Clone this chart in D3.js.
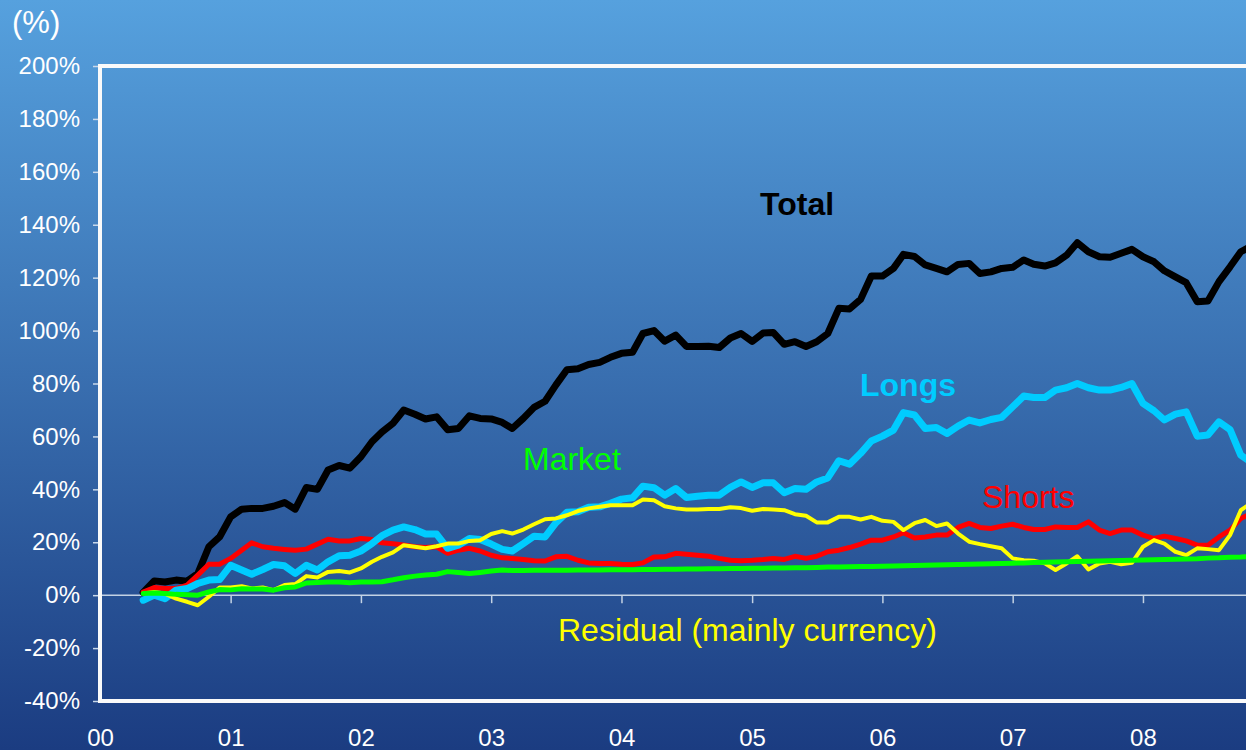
<!DOCTYPE html>
<html>
<head>
<meta charset="utf-8">
<script src="https://cdn.jsdelivr.net/npm/d3@7"></script>
<style>
  html, body { margin: 0; padding: 0; background: #1c3d82; }
  svg { display: block; font-family: "Liberation Sans", Arial, sans-serif; }
</style>
</head>
<body>
<svg id="chart" width="1246" height="750"></svg>
<script>
// monthly observations, May 2000 .. Nov 2008
const months = d3.timeMonth.range(new Date(2000, 4, 1), new Date(2008, 11, 1));

const total = [
  1.0, 5.4, 5.0, 5.7, 5.3, 8.2, 18.3, 22.0,
  29.6, 32.5, 32.8, 32.8, 33.6, 35.0, 32.5, 40.7, 40.0, 47.3, 49.0, 48.0,
  52.3, 58.0, 61.7, 65.0, 70.0, 68.4, 66.6, 67.4, 62.5, 63.0, 67.8, 66.8,
  66.6, 65.3, 63.0, 66.8, 71.0, 73.3, 79.4, 85.2, 85.6, 87.2, 88.0, 89.9,
  91.4, 91.8, 98.9, 100.0, 96.0, 98.3, 94.0, 94.0, 94.1, 93.6, 97.2, 98.9,
  95.9, 99.1, 99.3, 94.8, 95.8, 94.0, 95.8, 98.9, 108.4, 108.2, 111.8, 120.6,
  120.6, 123.5, 128.8, 128.0, 124.8, 123.5, 122.2, 125.0, 125.4, 121.6, 122.2, 123.5,
  123.9, 126.7, 125.1, 124.4, 125.6, 128.5, 133.2, 129.8, 127.9, 127.7, 129.2, 130.7,
  127.9, 126.0, 122.6, 120.3, 118.1, 110.9, 111.2, 118.5, 124.1, 129.8, 132.0
];

const longs = [
  -1.9, 0.0, -1.3, 1.9, 2.5, 4.4, 5.7, 5.9,
  11.3, 9.5, 7.9, 9.7, 11.6, 11.1, 8.2, 11.3, 9.5, 12.6, 14.9, 15.1,
  16.7, 19.5, 22.5, 24.6, 25.8, 24.8, 23.1, 23.1, 17.7, 18.9, 21.4, 21.0,
  19.3, 17.3, 16.7, 19.5, 22.3, 22.0, 27.3, 31.3, 31.5, 33.2, 33.4, 34.7,
  36.3, 36.8, 41.2, 40.6, 37.8, 40.3, 36.9, 37.4, 37.8, 37.8, 40.7, 42.8,
  40.7, 42.5, 42.5, 38.7, 40.3, 40.0, 42.8, 44.3, 50.8, 49.5, 53.6, 58.3,
  60.1, 62.4, 69.0, 68.1, 63.0, 63.4, 61.1, 63.9, 66.2, 65.1, 66.4, 67.2,
  71.2, 75.3, 74.7, 74.7, 77.5, 78.4, 80.0, 78.4, 77.5, 77.5, 78.5, 80.0,
  72.5, 69.7, 66.2, 68.4, 69.3, 60.1, 60.5, 65.5, 62.6, 52.9, 50.0
];

const shorts = [
  1.2, 2.9, 2.5, 2.5, 3.8, 7.6, 11.7, 11.7,
  13.9, 17.0, 19.8, 18.3, 17.7, 17.3, 17.0, 17.4, 19.3, 21.1, 20.5, 20.5,
  21.4, 21.0, 19.8, 19.4, 19.0, 18.3, 18.0, 18.3, 15.8, 17.0, 17.7, 16.7,
  15.1, 14.1, 13.9, 13.5, 13.0, 12.9, 14.5, 14.7, 13.2, 12.2, 12.0, 12.0,
  11.7, 11.6, 12.2, 14.4, 14.5, 15.8, 15.5, 15.1, 14.7, 13.9, 13.2, 13.0,
  13.2, 13.5, 13.9, 13.5, 14.7, 13.9, 14.7, 16.4, 17.0, 18.0, 19.3, 20.8,
  20.8, 22.0, 23.6, 21.6, 22.0, 22.7, 22.7, 25.6, 27.1, 25.6, 25.2, 26.1,
  26.8, 25.6, 24.8, 24.8, 25.8, 25.6, 25.6, 27.7, 24.6, 23.3, 24.6, 24.6,
  22.7, 21.4, 22.3, 21.4, 20.5, 18.9, 18.9, 22.0, 24.6, 29.0, 31.0
];

const market = [
  0.6, 0.8, 0.6, 0.3, 0.2, 0.0, 1.2, 2.1,
  2.0, 2.4, 2.3, 2.3, 1.9, 2.8, 3.1, 4.6, 4.8, 5.0, 5.0, 4.7,
  5.0, 5.0, 5.1, 5.8, 6.6, 7.2, 7.6, 7.9, 8.9, 8.6, 8.2, 8.6,
  9.1, 9.5, 9.3, 9.3, 9.4, 9.4, 9.4, 9.4, 9.5, 9.5, 9.5, 9.6,
  9.6, 9.6, 9.7, 9.7, 9.8, 9.8, 9.9, 9.9, 10.0, 10.0, 10.1, 10.1,
  10.2, 10.2, 10.3, 10.3, 10.4, 10.4, 10.5, 10.6, 10.6, 10.7, 10.8, 10.8,
  10.9, 11.0, 11.1, 11.2, 11.3, 11.4, 11.5, 11.6, 11.7, 11.8, 11.9, 12.0,
  12.1, 12.2, 12.3, 12.4, 12.5, 12.6, 12.7, 12.8, 12.9, 13.0, 13.1, 13.2,
  13.3, 13.4, 13.5, 13.6, 13.7, 13.8, 14.0, 14.1, 14.3, 14.4, 14.6
];

const residual = [
  0.6, 1.2, 0.6, -1.3, -2.5, -3.8, -0.6, 2.9,
  2.9, 3.4, 2.5, 2.9, 1.9, 3.8, 4.2, 7.2, 6.7, 8.8, 9.1, 8.6,
  10.1, 12.6, 14.5, 16.2, 18.9, 18.3, 17.7, 18.5, 19.5, 19.5, 20.5, 20.8,
  23.1, 24.2, 23.3, 24.8, 26.8, 28.7, 29.0, 30.2, 31.8, 32.8, 33.4, 34.0,
  34.0, 34.0, 36.2, 35.9, 33.6, 32.8, 32.4, 32.4, 32.6, 32.6, 33.2, 32.9,
  31.9, 32.6, 32.4, 32.1, 30.6, 30.0, 27.5, 27.5, 29.6, 29.6, 28.6, 29.6,
  28.1, 27.7, 24.6, 27.2, 28.4, 26.1, 27.1, 23.3, 20.2, 19.3, 18.5, 17.7,
  13.9, 13.2, 13.0, 12.0, 9.5, 12.0, 14.7, 9.7, 12.0, 12.6, 11.7, 12.2,
  18.3, 20.8, 19.5, 16.4, 15.1, 17.7, 17.4, 17.0, 22.7, 32.1, 35.0
];

const yTicks = [-40, -20, 0, 20, 40, 60, 80, 100, 120, 140, 160, 180, 200];
const yearLabels = ["00", "01", "02", "03", "04", "05", "06", "07", "08"];

const W = 1246, H = 750;
const margin = { left: 100, top: 66, bottom: 701, right: 1300 };

const svg = d3.select("#chart");

const defs = svg.append("defs");
const grad = defs.append("linearGradient")
  .attr("id", "bg").attr("x1", 0).attr("y1", 0).attr("x2", 0).attr("y2", 1);
grad.append("stop").attr("offset", "0%").attr("stop-color", "#56a1de");
grad.append("stop").attr("offset", "50%").attr("stop-color", "#396fb0");
grad.append("stop").attr("offset", "100%").attr("stop-color", "#1b3c81");

defs.append("clipPath").attr("id", "plotclip")
  .append("rect")
  .attr("x", margin.left).attr("y", margin.top)
  .attr("width", margin.right - margin.left).attr("height", margin.bottom - margin.top);

svg.append("rect").attr("width", W).attr("height", H).attr("fill", "url(#bg)");

const x = d3.scaleTime()
  .domain([new Date(2000, 0, 1), new Date(2009, 0, 1)])
  .range([margin.left, margin.left + 9 * 130.4]);

const y = d3.scaleLinear()
  .domain([-40, 200])
  .range([margin.bottom, margin.top]);

// y axis ticks + labels
const yAxis = svg.append("g")
  .attr("transform", `translate(${margin.left},0)`)
  .call(d3.axisLeft(y).tickValues(yTicks).tickSize(7).tickPadding(13).tickFormat(d => d + "%"));
yAxis.select(".domain").remove();
yAxis.selectAll("line").attr("stroke", "#c9d8ea").attr("stroke-width", 1.5);
yAxis.selectAll("text").attr("fill", "#fff").attr("font-size", 24)
  .attr("font-family", "'Liberation Sans', Arial, sans-serif");

// zero line with year ticks
svg.append("line")
  .attr("x1", margin.left).attr("x2", margin.right)
  .attr("y1", y(0)).attr("y2", y(0))
  .attr("stroke", "#c3d2e4").attr("stroke-width", 1.5);

const years = d3.timeYear.range(new Date(2000, 0, 1), new Date(2009, 0, 1));

const zeroAxis = svg.append("g")
  .attr("transform", `translate(0,${y(0)})`)
  .call(d3.axisBottom(x).tickValues(years).tickSize(8).tickFormat(""));
zeroAxis.select(".domain").remove();
zeroAxis.selectAll("line").attr("stroke", "#c3d2e4").attr("stroke-width", 1.5);

// year labels below plot
const xAxis = svg.append("g")
  .attr("transform", `translate(0,${margin.bottom})`)
  .call(d3.axisBottom(x).tickValues(years).tickSize(0).tickPadding(28)
    .tickFormat((d, i) => yearLabels[i]));
xAxis.select(".domain").remove();
xAxis.selectAll("text").attr("fill", "#fff").attr("font-size", 24)
  .attr("font-family", "'Liberation Sans', Arial, sans-serif");

svg.append("text")
  .attr("x", 12).attr("y", 33)
  .attr("fill", "#fff").attr("font-size", 31)
  .text("(%)");

// lines
const series = [
  { name: "Total", values: total, color: "#000000", width: 7 },
  { name: "Shorts", values: shorts, color: "#ff0000", width: 5 },
  { name: "Longs", values: longs, color: "#00ccff", width: 7 },
  { name: "Residual", values: residual, color: "#ffff00", width: 4 },
  { name: "Market", values: market, color: "#00ff00", width: 5 }
];

const line = d3.line()
  .x((d, i) => x(months[i]))
  .y(d => y(d));

svg.append("g")
  .attr("clip-path", "url(#plotclip)")
  .selectAll("path")
  .data(series)
  .join("path")
  .attr("d", s => line(s.values))
  .attr("fill", "none")
  .attr("stroke", s => s.color)
  .attr("stroke-width", s => s.width)
  .attr("stroke-linejoin", "round")
  .attr("stroke-linecap", "round");

// frame
svg.append("rect")
  .attr("x", margin.left).attr("y", margin.top)
  .attr("width", margin.right - margin.left).attr("height", margin.bottom - margin.top)
  .attr("fill", "none").attr("stroke", "#fafafa").attr("stroke-width", 4);

// series labels
const labels = [
  { text: "Total", x: 760, y: 215, color: "#000", weight: "bold" },
  { text: "Longs", x: 860, y: 396, color: "#00ccff", weight: "bold" },
  { text: "Market", x: 523, y: 470, color: "#00ff00", weight: "normal" },
  { text: "Shorts", x: 982, y: 508, color: "#ff0000", weight: "normal" },
  { text: "Residual (mainly currency)", x: 558, y: 641, color: "#ffff00", weight: "normal" }
];

svg.append("g")
  .selectAll("text")
  .data(labels)
  .join("text")
  .attr("x", d => d.x).attr("y", d => d.y)
  .attr("fill", d => d.color)
  .attr("font-weight", d => d.weight)
  .attr("font-size", 32)
  .text(d => d.text);
</script>
</body>
</html>
